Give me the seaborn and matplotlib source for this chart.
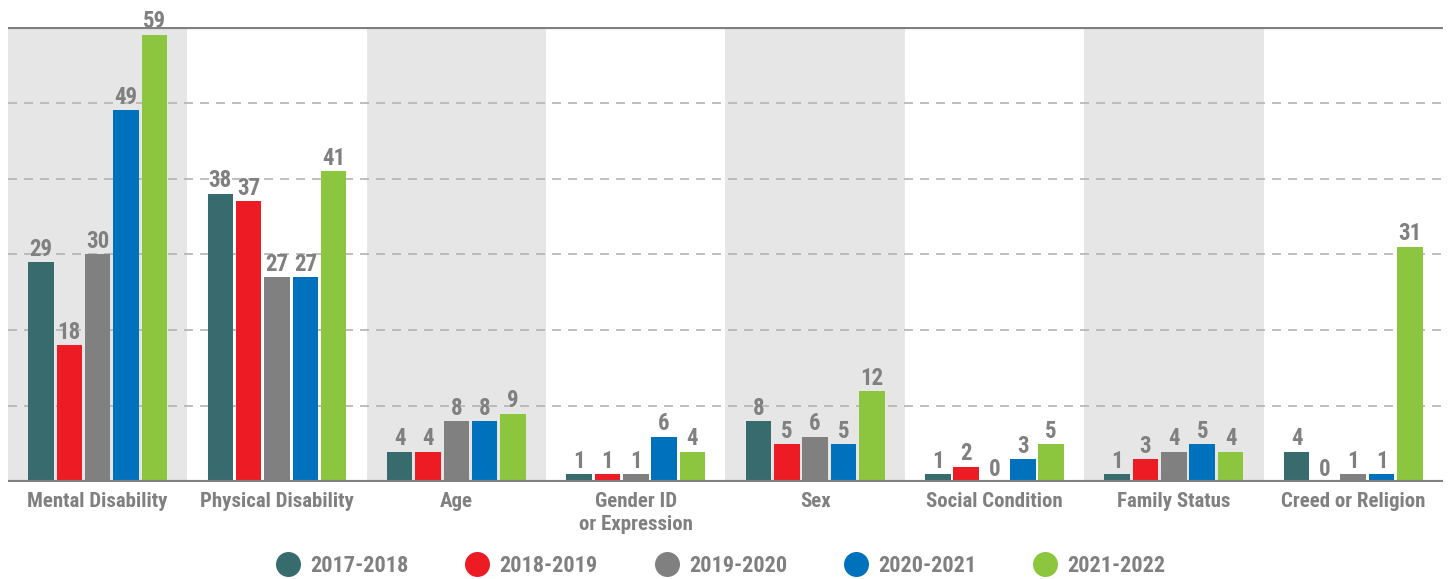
import matplotlib
matplotlib.use("Agg")
import matplotlib.pyplot as plt
import seaborn as sns
import pandas as pd
from matplotlib.lines import Line2D
from matplotlib import font_manager as fm

# data
categories = ["Mental Disability", "Physical Disability", "Age", "Gender ID\nor Expression",
              "Sex", "Social Condition", "Family Status", "Creed or Religion"]
years = ["2017-2018", "2018-2019", "2019-2020", "2020-2021", "2021-2022"]
v_2017 = [29, 38, 4, 1, 8, 1, 1, 4]
v_2018 = [18, 37, 4, 1, 5, 2, 3, 0]
v_2019 = [30, 27, 8, 1, 6, 0, 4, 1]
v_2020 = [49, 27, 8, 6, 5, 3, 5, 1]
v_2021 = [59, 41, 9, 4, 12, 5, 4, 31]
colors = ["#376b6d", "#ed1c24", "#808080", "#0071bc", "#8cc63f"]
text_grey = "#808080"

rows = []
for yr, vals in zip(years, [v_2017, v_2018, v_2019, v_2020, v_2021]):
    for cat, v in zip(categories, vals):
        rows.append({"category": cat, "year": yr, "count": v})
df = pd.DataFrame(rows)


# look for a narrow bold sans face, the original uses a condensed type
def pick_font():
    rank = {"ultra-condensed": 1, "extra-condensed": 2, "condensed": 3, "semi-condensed": 4}
    fam_pref = ["Roboto", "Open Sans", "Noto Sans", "Liberation", "DejaVu", "Lato", "Inter"]
    best = None
    for f in fm.fontManager.ttflist:
        name = f.name
        if any(b in name for b in ["CJK", "Mono", "Serif", "Math"]):
            continue
        st = f.stretch if isinstance(f.stretch, str) else ""
        narrow = st in rank or "Condensed" in name or "Narrow" in name
        if not narrow:
            continue
        w = f.weight
        if isinstance(w, str):
            w = {"bold": 700, "semibold": 600, "demibold": 600, "heavy": 800}.get(w, 400)
        if w < 600 or f.style != "normal":
            continue
        fp = next((i for i, p in enumerate(fam_pref) if p in name), 99)
        key = (fp, rank.get(st, 3), abs(w - 700))
        if best is None or key < best[0]:
            best = (key, f.fname)
    return best[1] if best else None


font_path = pick_font()


def font(size):
    if font_path:
        return fm.FontProperties(fname=font_path, size=size)
    return fm.FontProperties(family="DejaVu Sans", weight="bold", size=size)


sns.set_style("white")

fig = plt.figure(figsize=(14.48, 5.79), dpi=100)
ax = fig.add_axes([0.0055, 0.1675, 0.991, 0.786])

# alternating background bands
for i in range(0, len(categories), 2):
    ax.axvspan(i - 0.5, i + 0.5, color="#e6e6e6", zorder=0, lw=0)

for y in range(10, 60, 10):
    ax.axhline(y, color="#b3b3b3", lw=1.2, ls=(0, (5.4, 4.2)), zorder=0.5)

sns.barplot(data=df, x="category", y="count", hue="year", palette=colors, saturation=1,
            width=0.79, gap=0.1, ax=ax, legend=False, zorder=2, linewidth=0)

for cont in ax.containers:
    ax.bar_label(cont, padding=1, color=text_grey, fontproperties=font(16.5))

ax.axhline(60, color="#808080", lw=3, zorder=3)
ax.axhline(0, color="#808080", lw=3, zorder=3)
ax.set_ylim(0, 60)
ax.set_xlim(-0.5, len(categories) - 0.5)
ax.set_yticks([])
ax.set_xlabel("")
ax.set_ylabel("")
ax.tick_params(axis="x", length=0, pad=7, labelcolor=text_grey)
for lbl in ax.get_xticklabels():
    lbl.set_fontproperties(font(15))
    lbl.set_linespacing(1.3)
sns.despine(ax=ax, left=True, bottom=True, top=True, right=True)

handles = [Line2D([0], [0], marker="o", color="none", markerfacecolor=c,
                  markeredgecolor="none", markersize=18) for c in colors]
fig.legend(handles, years, loc="center", bbox_to_anchor=(0.498, 0.022), ncol=5,
           frameon=False, prop=font(16), labelcolor=text_grey, columnspacing=2.6,
           handletextpad=0.5, handlelength=1.0)

fig.savefig("out.png", dpi=100)
